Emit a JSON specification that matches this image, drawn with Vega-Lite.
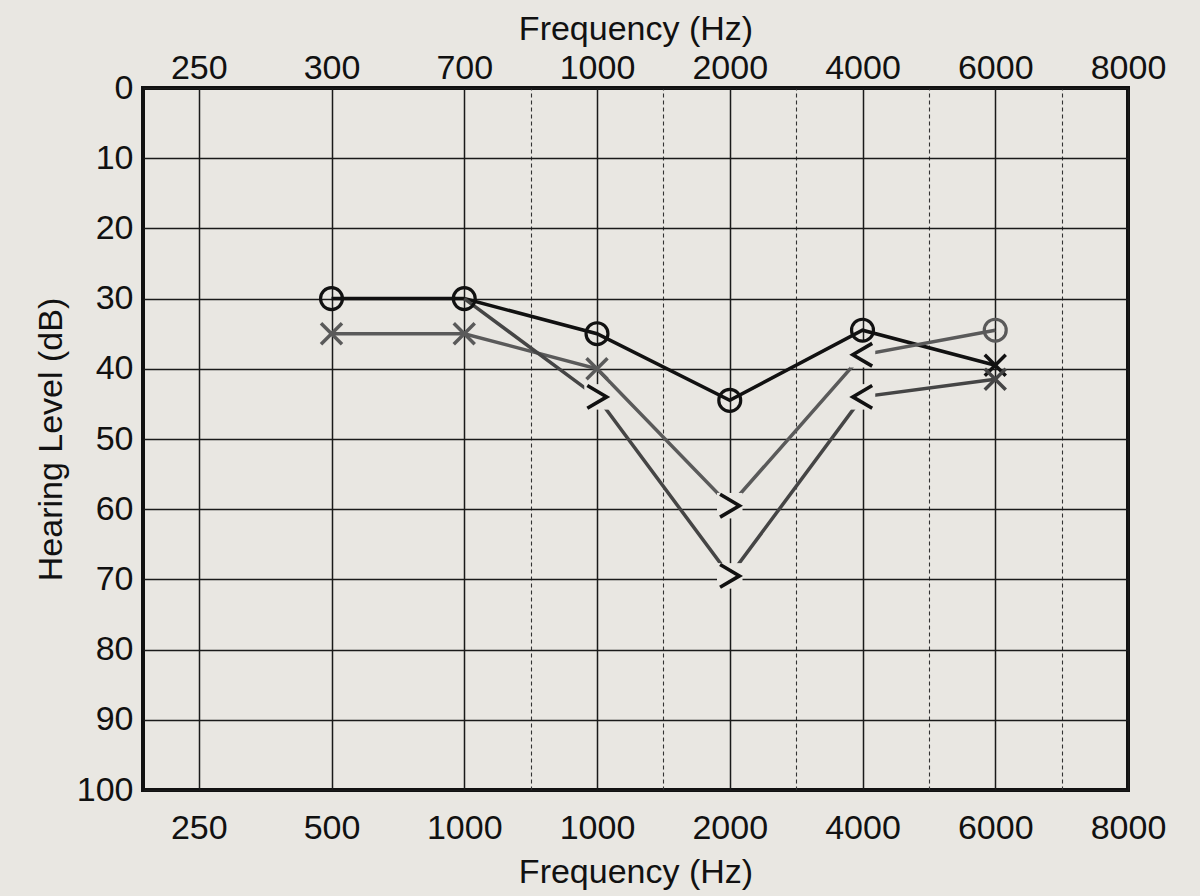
{
  "$schema": "https://vega.github.io/schema/vega-lite/v6.json",
  "description": "Audiogram: hearing level by frequency",
  "width": 985,
  "height": 702,
  "autosize": {"type": "none"},
  "padding": {"left": 143, "top": 88, "right": 72, "bottom": 106},
  "background": "#e9e7e2",
  "config": {
    "font": "Liberation Sans",
    "view": {"stroke": "#111111", "strokeWidth": 4},
    "axis": {
      "labelFont": "Liberation Sans",
      "titleFont": "Liberation Sans",
      "labelFontSize": 34,
      "titleFontSize": 34,
      "titleFontWeight": "normal",
      "labelColor": "#111111",
      "titleColor": "#111111",
      "domain": false,
      "ticks": false,
      "tickSize": 0,
      "labelOverlap": false,
      "labelFlush": false
    }
  },
  "data": {
    "values": [
      {"trace": "A", "slot": 1, "db": 30, "symbol": "O"},
      {"trace": "A", "slot": 2, "db": 30, "symbol": "O"},
      {"trace": "A", "slot": 3, "db": 35, "symbol": "O"},
      {"trace": "A", "slot": 4, "db": 44.5, "symbol": "O"},
      {"trace": "A", "slot": 5, "db": 34.5, "symbol": "O"},
      {"trace": "A", "slot": 6, "db": 39.5, "symbol": "X"},
      {"trace": "B", "slot": 1, "db": 35, "symbol": "X"},
      {"trace": "B", "slot": 2, "db": 35, "symbol": "X"},
      {"trace": "B", "slot": 3, "db": 40, "symbol": "X"},
      {"trace": "B", "slot": 4, "db": 59.5, "symbol": ">"},
      {"trace": "B", "slot": 5, "db": 38, "symbol": "<"},
      {"trace": "B", "slot": 6, "db": 34.5, "symbol": "O"},
      {"trace": "C", "slot": 2, "db": 30, "symbol": "none"},
      {"trace": "C", "slot": 3, "db": 44, "symbol": ">"},
      {"trace": "C", "slot": 4, "db": 69.5, "symbol": ">"},
      {"trace": "C", "slot": 5, "db": 44, "symbol": "<"},
      {"trace": "C", "slot": 6, "db": 41.5, "symbol": "X"}
    ]
  },
  "encoding": {
    "y": {
      "field": "db",
      "type": "quantitative",
      "scale": {"domain": [0, 100], "reverse": true, "nice": false, "zero": false},
      "axis": {
        "title": "Hearing Level (dB)",
        "values": [0, 10, 20, 30, 40, 50, 60, 70, 80, 90, 100],
        "labelPadding": 10,
        "titlePadding": 8,
        "grid": true,
        "gridColor": "#1a1a1a",
        "gridWidth": 1.5,
        "gridOpacity": 1
      }
    }
  },
  "layer": [
    {
      "mark": {"type": "line", "strokeWidth": 3.5},
      "encoding": {
        "x": {
          "field": "slot",
          "type": "quantitative",
          "scale": {"domain": [-0.42, 7], "nice": false, "zero": false},
          "axis": {
            "orient": "bottom",
            "title": "Frequency (Hz)",
            "values": [0, 1, 2, 2.5, 3, 3.5, 4, 4.5, 5, 5.5, 6, 6.5, 7],
            "labelExpr": "datum.value % 1 !== 0 ? '' : ['250','500','1000','1000','2000','4000','6000','8000'][datum.value]",
            "labelPadding": 21,
            "titlePadding": 10,
            "grid": true,
            "gridOpacity": 1,
            "gridColor": {"condition": {"test": "datum.value % 1 !== 0", "value": "#333333"}, "value": "#1a1a1a"},
            "gridWidth": {"condition": {"test": "datum.value % 1 !== 0", "value": 1.1}, "value": 1.5},
            "gridDash": {"condition": {"test": "datum.value % 1 !== 0", "value": [4, 3]}, "value": []}
          }
        },
        "color": {
          "field": "trace",
          "type": "nominal",
          "scale": {"domain": ["A", "B", "C"], "range": ["#111111", "#5a5a5a", "#454545"]},
          "legend": null
        },
        "order": {"field": "slot", "type": "quantitative"}
      }
    },
    {
      "transform": [{"filter": "datum.symbol === '>' || datum.symbol === '<'"}],
      "mark": {"type": "point", "shape": "square", "filled": true, "size": 650, "color": "#e9e7e2", "opacity": 1},
      "encoding": {
        "x": {
          "field": "slot",
          "type": "quantitative",
          "axis": {
            "orient": "top",
            "title": "Frequency (Hz)",
            "values": [0, 1, 2, 3, 4, 5, 6, 7],
            "labelExpr": "['250','300','700','1000','2000','4000','6000','8000'][datum.value]",
            "labelPadding": 3,
            "titlePadding": 5,
            "grid": false
          }
        }
      }
    },
    {
      "transform": [{"filter": "datum.symbol === '>' || datum.symbol === '<'"}],
      "mark": {"type": "point", "filled": false, "size": 520, "strokeWidth": 3.6, "color": "#111111", "opacity": 1, "strokeJoin": "miter"},
      "encoding": {
        "x": {"field": "slot", "type": "quantitative", "axis": null},
        "shape": {
          "field": "symbol",
          "type": "nominal",
          "scale": {"domain": [">", "<"], "range": ["M-0.85,-1L0.85,0L-0.85,1", "M0.85,-1L-0.85,0L0.85,1"]},
          "legend": null
        }
      }
    },
    {
      "transform": [{"filter": "datum.symbol === 'O'"}],
      "mark": {"type": "point", "shape": "circle", "filled": false, "size": 480, "strokeWidth": 3.2, "opacity": 1},
      "encoding": {
        "x": {"field": "slot", "type": "quantitative", "axis": null},
        "color": {"field": "trace", "type": "nominal", "legend": null}
      }
    },
    {
      "transform": [{"filter": "datum.symbol === 'X'"}],
      "mark": {"type": "point", "shape": "M-1,-1L1,1M1,-1L-1,1", "filled": false, "size": 440, "strokeWidth": 3.5, "opacity": 1},
      "encoding": {
        "x": {"field": "slot", "type": "quantitative", "axis": null},
        "color": {"field": "trace", "type": "nominal", "legend": null}
      }
    }
  ],
  "resolve": {"axis": {"x": "independent"}}
}
